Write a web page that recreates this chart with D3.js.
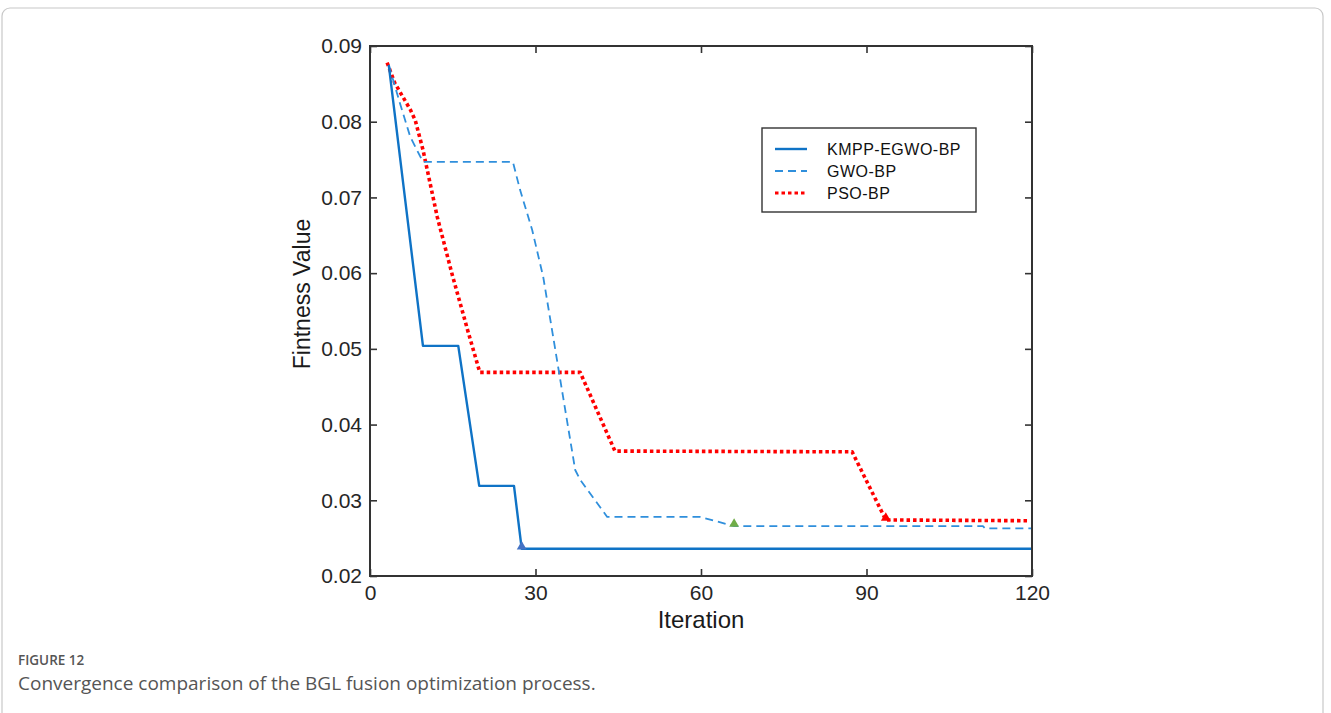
<!DOCTYPE html>
<html>
<head>
<meta charset="utf-8">
<script src="https://cdn.jsdelivr.net/npm/d3@7"></script>
<style>
  body { margin: 0; background: #fff; }
  svg { display: block; font-family: "Liberation Sans", Arial, sans-serif; }
</style>
</head>
<body>
<svg id="chart" width="1331" height="713"></svg>
<script>
// values
const iterKmpp = [3.4, 9.6, 16.0, 19.8, 26.1, 27.5, 120];
const fitKmpp = [0.0875, 0.0504, 0.0504, 0.0319, 0.0319, 0.0236, 0.0236];

const iterGwo = [3.4, 5.4, 7.3, 9.6, 25.9, 27.2, 29.4, 31.4, 33.2, 34.4, 35.9, 37.2, 38.1, 43.0, 59.8, 66.0, 111.1, 111.5, 120];
const fitGwo = [0.0875, 0.0825, 0.0780, 0.0747, 0.0747, 0.0710, 0.0657, 0.0595, 0.0516, 0.0463, 0.0397, 0.0340, 0.0327, 0.0278, 0.0278, 0.0266, 0.0266, 0.0263, 0.0263];

const iterPso = [3.1, 4.5, 7.3, 8.2, 9.6, 12.2, 14.9, 17.8, 19.9, 38.1, 44.4, 87.4, 93.5, 119.3];
const fitPso = [0.0878, 0.0851, 0.0816, 0.0802, 0.0763, 0.0674, 0.0598, 0.0522, 0.0469, 0.0469, 0.0365, 0.0364, 0.0274, 0.0273];

const bestIter = [27.5, 66.0, 93.5];
const bestFit = [0.0236, 0.0266, 0.0274];

const seriesNames = ["KMPP-EGWO-BP", "GWO-BP", "PSO-BP"];
const xTicks = [0, 30, 60, 90, 120];
const yTicks = [0.02, 0.03, 0.04, 0.05, 0.06, 0.07, 0.08, 0.09];

const figureLabel = "FIGURE 12";
const caption = "Convergence comparison of the BGL fusion optimization process.";

const lineColors = ["#0f73c6", "#2f8fdc", "#ff0000"];
const markerColors = ["#4472c4", "#70ad47", "#ff0000"];
const dashes = [null, "8,5", "3.5,3"];
const widths = [2.4, 1.8, 3.6];

const svg = d3.select("#chart");

// card border
svg.append("rect")
    .attr("x", 2).attr("y", 8)
    .attr("width", 1321).attr("height", 740)
    .attr("rx", 8)
    .attr("fill", "#fff")
    .attr("stroke", "#c8c8c8")
    .attr("stroke-width", 1.2);

const plotLeft = 370, plotRight = 1032, plotTop = 46, plotBottom = 576;
const x = d3.scaleLinear().domain([0, 120]).range([plotLeft, plotRight]);
const y = d3.scaleLinear().domain([0.02, 0.09]).range([plotBottom, plotTop]);

function zip(xs, ys) {
    return xs.map((d, i) => ({x: d, y: ys[i]}));
}

const series = [zip(iterKmpp, fitKmpp), zip(iterGwo, fitGwo), zip(iterPso, fitPso)];

const line = d3.line()
    .x(d => x(d.x))
    .y(d => y(d.y));

// lines (PSO drawn first so blue lines sit above it like the figure)
[2, 1, 0].forEach(k => {
    svg.append("path")
        .datum(series[k])
        .attr("fill", "none")
        .attr("stroke", lineColors[k])
        .attr("stroke-width", widths[k])
        .attr("stroke-dasharray", dashes[k])
        .attr("stroke-linejoin", "round")
        .attr("d", line);
});

// best-point markers
svg.selectAll(".best")
    .data(bestIter)
    .enter().append("path")
        .attr("class", "best")
        .attr("transform", (d, i) => `translate(${x(d)},${y(bestFit[i]) - 2})`)
        .attr("d", d3.symbol().type(d3.symbolTriangle).size(42))
        .attr("fill", (d, i) => markerColors[i]);

// axes with inward ticks
const tickFont = "21px";
const axisColor = "#333";

const gLeft = svg.append("g").attr("transform", `translate(${plotLeft},0)`)
    .call(d3.axisLeft(y).tickValues(yTicks).tickFormat(d3.format(".2f"))
        .tickSizeInner(-7).tickSizeOuter(0).tickPadding(8));
const gBottom = svg.append("g").attr("transform", `translate(0,${plotBottom})`)
    .call(d3.axisBottom(x).tickValues(xTicks)
        .tickSizeInner(-7).tickSizeOuter(0).tickPadding(9));
const gRight = svg.append("g").attr("transform", `translate(${plotRight},0)`)
    .call(d3.axisRight(y).tickValues(yTicks).tickFormat("")
        .tickSizeInner(-7).tickSizeOuter(0));
const gTop = svg.append("g").attr("transform", `translate(0,${plotTop})`)
    .call(d3.axisTop(x).tickValues(xTicks).tickFormat("")
        .tickSizeInner(-7).tickSizeOuter(0));

[gLeft, gBottom, gRight, gTop].forEach(g => {
    g.select(".domain").remove();
    g.selectAll("line").attr("stroke", axisColor).attr("stroke-width", 1.6);
    g.selectAll("text")
        .attr("fill", "#262626")
        .style("font-size", tickFont)
        .style("font-family", "'Liberation Sans', Arial, sans-serif");
});

svg.append("rect")
    .attr("x", plotLeft).attr("y", plotTop)
    .attr("width", plotRight - plotLeft).attr("height", plotBottom - plotTop)
    .attr("fill", "none")
    .attr("stroke", axisColor)
    .attr("stroke-width", 2);

// axis titles
svg.append("text")
    .attr("x", (plotLeft + plotRight) / 2)
    .attr("y", 628)
    .attr("text-anchor", "middle")
    .attr("fill", "#1a1a1a")
    .style("font-size", "24px")
    .text("Iteration");

svg.append("text")
    .attr("transform", `translate(310,${(plotTop + plotBottom) / 2 - 17}) rotate(-90)`)
    .attr("text-anchor", "middle")
    .attr("fill", "#1a1a1a")
    .style("font-size", "23px")
    .text("Fintness Value");

// legend
const legend = svg.append("g");
legend.append("rect")
    .attr("x", 762).attr("y", 128)
    .attr("width", 214).attr("height", 84)
    .attr("fill", "#fff")
    .attr("stroke", "#333")
    .attr("stroke-width", 1.4);

const legendRows = legend.selectAll(".row")
    .data(seriesNames)
    .enter().append("g")
        .attr("class", "row")
        .attr("transform", (d, i) => `translate(775,${149 + i * 22})`);

legendRows.append("line")
    .attr("x1", 0).attr("x2", 32)
    .attr("stroke", (d, i) => lineColors[i])
    .attr("stroke-width", (d, i) => Math.min(widths[i], 3))
    .attr("stroke-dasharray", (d, i) => dashes[i]);

legendRows.append("text")
    .attr("x", 52)
    .attr("dy", "0.35em")
    .attr("fill", "#111")
    .style("font-size", "16px")
    .style("letter-spacing", "0.5px")
    .text(d => d);

// caption
svg.append("text")
    .attr("x", 18).attr("y", 665)
    .attr("fill", "#555")
    .style("font-size", "13.5px")
    .style("font-weight", 600)
    .style("font-family", "'Open Sans', sans-serif")
    .text(figureLabel);

svg.append("text")
    .attr("x", 18).attr("y", 690)
    .attr("fill", "#555")
    .style("font-size", "19px")
    .style("font-family", "'Open Sans', sans-serif")
    .text(caption);
</script>
</body>
</html>
